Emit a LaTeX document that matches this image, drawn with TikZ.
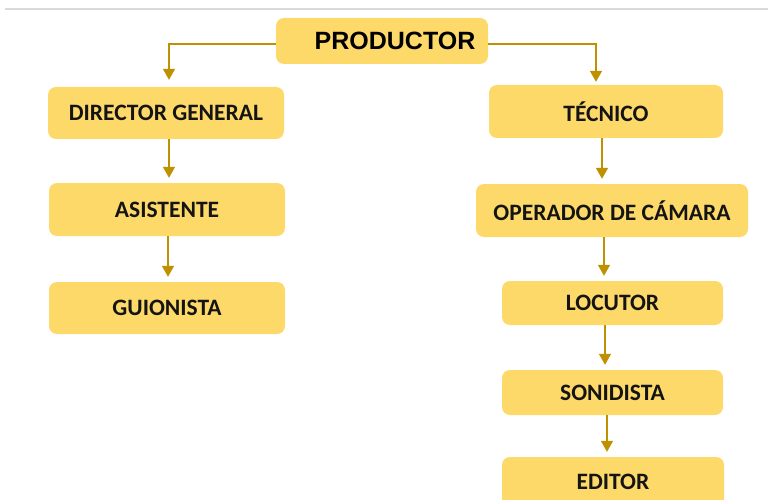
\documentclass[tikz,border=0pt]{standalone}
\usepackage{fontspec}
\setmainfont{Carlito}
\newfontfamily\arialfont{Liberation Sans}
\usetikzlibrary{arrows.meta}
\definecolor{boxfill}{HTML}{FDD96A}
\definecolor{arrowcol}{HTML}{BF9000}
\definecolor{txtcol}{HTML}{141414}
\tikzset{
  box/.style={fill=boxfill, draw=none, rounded corners=8pt, inner sep=0pt,
    font=\bfseries\fontsize{23.5}{26}\selectfont, text=txtcol},
  arr/.style={draw=arrowcol, line width=1.4pt, -{Triangle[width=12pt,length=11pt,fill=arrowcol]}},
}
\begin{document}
\begin{tikzpicture}[x=1pt,y=-1pt]
\useasboundingbox (0,0) rectangle (768,500);
\draw[black!15, line width=1.5pt] (5,9) -- (768,9);
% top
\node[box, minimum width=212pt, minimum height=46pt, font=\arialfont\bfseries\fontsize{25}{29}\selectfont, text=black] (prod) at (382,41) {\hspace*{26pt}PRODUCTOR};
% left column
\node[box, minimum width=236pt, minimum height=52pt] (dir) at (166,113) {DIRECTOR GENERAL};
\node[box, minimum width=236pt, minimum height=53pt] (asi) at (167,209.5) {ASISTENTE};
\node[box, minimum width=236pt, minimum height=52pt] (gui) at (167,308) {GUIONISTA};
% right column
\node[box, minimum width=234pt, minimum height=53pt] (tec) at (606,111.5) {TÉCNICO};
\node[box, minimum width=272pt, minimum height=53pt] (op) at (612,210.5) {OPERADOR DE CÁMARA};
\node[box, minimum width=221pt, minimum height=44pt] (loc) at (612.5,303) {LOCUTOR};
\node[box, minimum width=221pt, minimum height=45pt] (son) at (612.5,392.5) {SONIDISTA};
\node[box, minimum width=222pt, minimum height=50pt] (edi) at (613,482) {EDITOR};
% connectors
\draw[arr] ([yshift=-3pt]prod.west) -| ([xshift=3pt,yshift=7pt]dir.north);
\draw[arr] ([yshift=-3pt]prod.east) -| ([xshift=-10pt,yshift=3pt]tec.north);
\draw[arr] ([xshift=3pt]dir.south) -- ([xshift=3pt,yshift=5pt]dir.south |- asi.north);
\draw[arr] ([xshift=1pt]asi.south) -- ([xshift=1pt,yshift=5pt]asi.south |- gui.north);
\draw[arr] ([xshift=-4pt]tec.south) -- ([xshift=-4pt,yshift=5pt]tec.south |- op.north);
\draw[arr] ([xshift=-8pt]op.south) -- ([xshift=-8pt,yshift=5pt]op.south |- loc.north);
\draw[arr] ([xshift=-7.5pt]loc.south) -- ([xshift=-7.5pt,yshift=5pt]loc.south |- son.north);
\draw[arr] ([xshift=-5.5pt]son.south) -- ([xshift=-5.5pt,yshift=5pt]son.south |- edi.north);
\end{tikzpicture}
\end{document}
